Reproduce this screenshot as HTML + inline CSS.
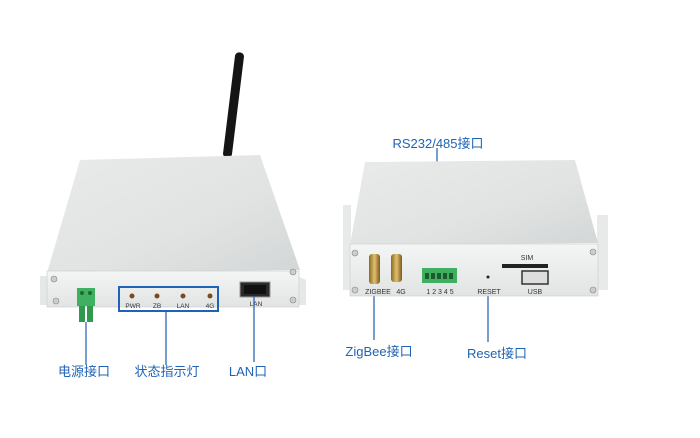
<!DOCTYPE html>
<html><head><meta charset="utf-8"><style>
html,body{margin:0;padding:0;background:#fff;width:700px;height:438px;overflow:hidden}
svg text{font-family:"Liberation Sans","Noto Sans CJK SC",sans-serif}
</style></head><body>
<svg width="700" height="438" viewBox="0 0 700 438" xmlns="http://www.w3.org/2000/svg">
<defs>
<linearGradient id="top" x1="0" y1="0" x2="1" y2="1"><stop offset="0" stop-color="#e9ebeb"/><stop offset="0.6" stop-color="#e1e3e3"/><stop offset="1" stop-color="#d3d6d6"/></linearGradient>
<linearGradient id="front" x1="0" y1="0" x2="0" y2="1"><stop offset="0" stop-color="#f4f5f5"/><stop offset="1" stop-color="#e2e4e4"/></linearGradient>
<linearGradient id="gold" x1="0" y1="0" x2="1" y2="0"><stop offset="0" stop-color="#8a6a20"/><stop offset="0.5" stop-color="#e0c070"/><stop offset="1" stop-color="#7a5a18"/></linearGradient>
</defs>
<!-- LEFT DEVICE -->
<rect x="229" y="52" width="9" height="106" rx="4" transform="rotate(7 233 105)" fill="#151515"/>
<polygon points="40,276 47,276 47,305 40,305" fill="#e6e8e8"/>
<polygon points="297,276 306,280 306,305 297,305" fill="#e6e8e8"/>
<polygon points="80,160 260,155 300,270 47,273" fill="url(#top)"/>
<rect x="47" y="271" width="252" height="36" fill="url(#front)" stroke="#c9cccc" stroke-width="0.6"/>
<circle cx="54" cy="279" r="3" fill="#ccc" stroke="#888" stroke-width="0.6"/>
<circle cx="56" cy="301" r="3" fill="#ccc" stroke="#888" stroke-width="0.6"/>
<circle cx="293" cy="272" r="3" fill="#ccc" stroke="#888" stroke-width="0.6"/>
<circle cx="293" cy="300" r="3" fill="#ccc" stroke="#888" stroke-width="0.6"/>
<rect x="77" y="288" width="18" height="18" fill="#3fb060"/>
<rect x="79" y="306" width="6" height="16" fill="#2f9a4e"/><rect x="87" y="306" width="6" height="16" fill="#2f9a4e"/>
<circle cx="82" cy="293" r="2" fill="#1e6a35"/><circle cx="90" cy="293" r="2" fill="#1e6a35"/>
<rect x="119" y="287" width="99" height="24" fill="none" stroke="#1f63b5" stroke-width="2"/>
<g fill="#7a4a20"><circle cx="132" cy="296" r="2.5"/><circle cx="157" cy="296" r="2.5"/><circle cx="183" cy="296" r="2.5"/><circle cx="210" cy="296" r="2.5"/></g>
<g font-size="6.5" fill="#333" text-anchor="middle"><text x="133" y="308">PWR</text><text x="157" y="308">ZB</text><text x="183" y="308">LAN</text><text x="210" y="308">4G</text><text x="256" y="306">LAN</text></g>
<rect x="240" y="282" width="30" height="15" fill="#2a2a2a" stroke="#999"/><rect x="244" y="285" width="22" height="9" fill="#111"/>
<g stroke="#1a5cae" stroke-width="1.2"><line x1="86" y1="322" x2="86" y2="365"/><line x1="166" y1="311" x2="166" y2="365"/><line x1="254" y1="296" x2="254" y2="362"/>
<line x1="437" y1="148" x2="437" y2="268"/><line x1="374" y1="285" x2="374" y2="340"/><line x1="488" y1="280" x2="488" y2="342"/></g>
<g font-size="13" fill="#1f63b5" text-anchor="middle"><text x="84" y="376">电源接口</text><text x="167" y="376">状态指示灯</text><text x="248" y="376">LAN口</text>
<text x="438" y="148">RS232/485接口</text><text x="379" y="356">ZigBee接口</text><text x="497" y="358">Reset接口</text></g>
<!-- RIGHT DEVICE -->
<rect x="343" y="205" width="8" height="85" fill="#e8eaea"/>
<rect x="597" y="215" width="11" height="75" fill="#e8eaea"/>
<polygon points="365,162 575,160 598,243 350,245" fill="url(#top)"/>
<rect x="350" y="244" width="248" height="52" fill="url(#front)" stroke="#c9cccc" stroke-width="0.6"/>
<circle cx="355" cy="253" r="3" fill="#ccc" stroke="#888" stroke-width="0.6"/><circle cx="355" cy="290" r="3" fill="#ccc" stroke="#888" stroke-width="0.6"/>
<circle cx="593" cy="252" r="3" fill="#ccc" stroke="#888" stroke-width="0.6"/><circle cx="593" cy="290" r="3" fill="#ccc" stroke="#888" stroke-width="0.6"/>
<rect x="369" y="254" width="11" height="30" rx="3" fill="url(#gold)"/><rect x="391" y="254" width="11" height="28" rx="3" fill="url(#gold)"/>
<rect x="422" y="268" width="35" height="15" fill="#3fb060"/>
<g fill="#1e5a30"><rect x="425" y="273" width="4" height="6"/><rect x="431" y="273" width="4" height="6"/><rect x="437" y="273" width="4" height="6"/><rect x="443" y="273" width="4" height="6"/><rect x="449" y="273" width="4" height="6"/></g>
<circle cx="488" cy="277" r="1.5" fill="#222"/>
<rect x="502" y="264" width="46" height="4" fill="#222"/>
<rect x="522" y="271" width="26" height="13" fill="#ddd" stroke="#333" stroke-width="1.5"/>
<g font-size="7" fill="#333" text-anchor="middle"><text x="378" y="294">ZIGBEE</text><text x="401" y="294">4G</text><text x="440" y="294">1 2 3 4 5</text><text x="489" y="294">RESET</text><text x="527" y="260">SIM</text><text x="535" y="294">USB</text></g>
</svg>
</body></html>
